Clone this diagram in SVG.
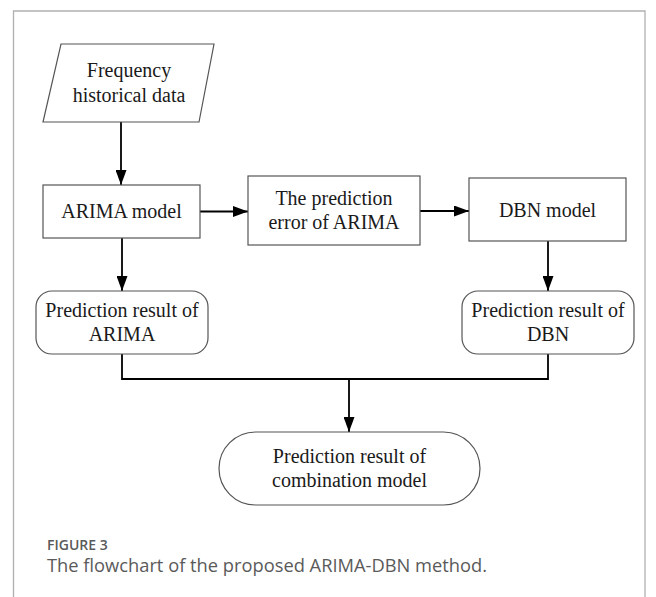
<svg xmlns="http://www.w3.org/2000/svg" width="656" height="597" viewBox="0 0 656 597">
  <style>
    .node { fill: #ffffff; stroke: #555555; stroke-width: 1.2; }
    .label { font-family: "Liberation Serif", "Times New Roman", serif; font-size: 20px; fill: #1a1a1a; text-anchor: middle; }
    .edge { fill: none; stroke: #000000; stroke-width: 1.8; }
    .cap-title { font-family: "Open Sans", "Noto Sans", sans-serif; font-size: 14px; font-weight: 600; fill: #5a5a5a; }
    .cap-text { font-family: "Open Sans", "Noto Sans", sans-serif; font-size: 18px; fill: #5a5a5a; }
  </style>
  <defs>
    <marker id="arrow" markerWidth="15" markerHeight="11" refX="15" refY="5.5" orient="auto" markerUnits="userSpaceOnUse">
      <path d="M0,0 L15,5.5 L0,11 Z" fill="#000000"/>
    </marker>
  </defs>

  <rect width="656" height="597" fill="#ffffff"/>
  <!-- figure frame (open at the bottom) -->
  <path d="M13.5,600 L13.5,11 L645,11 L645,600" fill="none" stroke="#b0b0b0" stroke-width="1.3"/>

  <!-- connectors -->
  <g id="connectors">
    <line class="edge" x1="121" y1="122" x2="121" y2="185" marker-end="url(#arrow)"/>
    <line class="edge" x1="200" y1="211.5" x2="248" y2="211.5" marker-end="url(#arrow)"/>
    <line class="edge" x1="420" y1="211" x2="469" y2="211" marker-end="url(#arrow)"/>
    <line class="edge" x1="122" y1="238" x2="122" y2="291" marker-end="url(#arrow)"/>
    <line class="edge" x1="548" y1="241" x2="548" y2="291" marker-end="url(#arrow)"/>
    <polyline class="edge" points="122,354 122,379 548,379 548,354"/>
    <line class="edge" x1="349" y1="379" x2="349" y2="432" marker-end="url(#arrow)"/>
  </g>

  <g id="frequency-data">
    <polygon class="node" points="61,44 214,44 199,122 43,122"/>
    <text class="label" x="129" y="77">Frequency</text>
    <text class="label" x="129" y="102">historical data</text>
  </g>

  <g id="arima-model">
    <rect class="node" x="43" y="185" width="157" height="53"/>
    <text class="label" x="121.5" y="218">ARIMA model</text>
  </g>

  <g id="arima-error">
    <rect class="node" x="248" y="176" width="172" height="69"/>
    <text class="label" x="334" y="205">The prediction</text>
    <text class="label" x="334" y="229">error of ARIMA</text>
  </g>

  <g id="dbn-model">
    <rect class="node" x="469" y="178" width="157" height="63"/>
    <text class="label" x="547.5" y="217">DBN model</text>
  </g>

  <g id="arima-result">
    <rect class="node" x="36" y="291" width="172" height="63" rx="16" ry="16"/>
    <text class="label" x="122" y="317">Prediction result of</text>
    <text class="label" x="122" y="341">ARIMA</text>
  </g>

  <g id="dbn-result">
    <rect class="node" x="462" y="291" width="172" height="63" rx="16" ry="16"/>
    <text class="label" x="548" y="317">Prediction result of</text>
    <text class="label" x="548" y="341">DBN</text>
  </g>

  <g id="combined-result">
    <rect class="node" x="219" y="432" width="261" height="73" rx="36.5" ry="36.5"/>
    <text class="label" x="349.5" y="463">Prediction result of</text>
    <text class="label" x="349.5" y="487">combination model</text>
  </g>

  <g id="caption">
    <text class="cap-title" x="47" y="550">FIGURE 3</text>
    <text class="cap-text" x="47" y="572" textLength="440" lengthAdjust="spacingAndGlyphs">The flowchart of the proposed ARIMA-DBN method.</text>
  </g>
</svg>
